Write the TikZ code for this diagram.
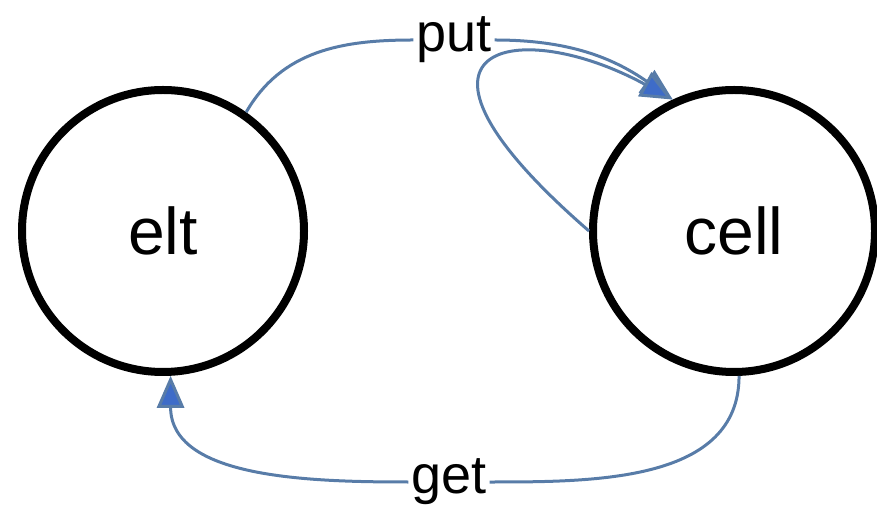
\documentclass[tikz,border=0pt]{standalone}
\usepackage{fontspec}
\setmainfont{Liberation Sans}
\usetikzlibrary{arrows.meta}
\definecolor{relline}{RGB}{88,124,168}
\definecolor{relhead}{RGB}{62,108,200}
\tikzset{
  sig/.style={
    circle,
    draw=black,
    line width=8pt,
    minimum size=282pt,
    inner sep=0pt,
    font=\fontsize{66}{70}\selectfont,
  },
  rel/.style={
    draw=relline,
    line width=3pt,
  },
  rel tip/.style={
    -{Triangle[length=32pt,width=27pt,fill=relhead]},
  },
  rel label/.style={
    inner sep=3pt,
    font=\fontsize{54}{60}\selectfont,
  },
}

\begin{document}
\begin{tikzpicture}[x=1pt, y=1pt]

\useasboundingbox (0,0) rectangle (877,511);

\node [sig] (elt)  at (163,280) {elt};
\node [sig] (cell) at (734,280) {cell};

\node [rel label] (put) at (454,471) {put};
\node [rel label] (get) at (449,29)  {get};

% put
\draw [rel] (elt.55) to [out=60, in=180] (put.west);
\draw [rel, rel tip] (put.east) to [out=0, in=145] (cell.115);
\draw [rel, rel tip] (cell.west) .. controls (370,470) and (520,495) .. (cell.115);

% get
\draw [rel] (cell.272) to [out=-90, in=0] (get.east);
\draw [rel, rel tip] (get.west) to [out=180, in=-90] (elt.273);

\end{tikzpicture}
\end{document}
